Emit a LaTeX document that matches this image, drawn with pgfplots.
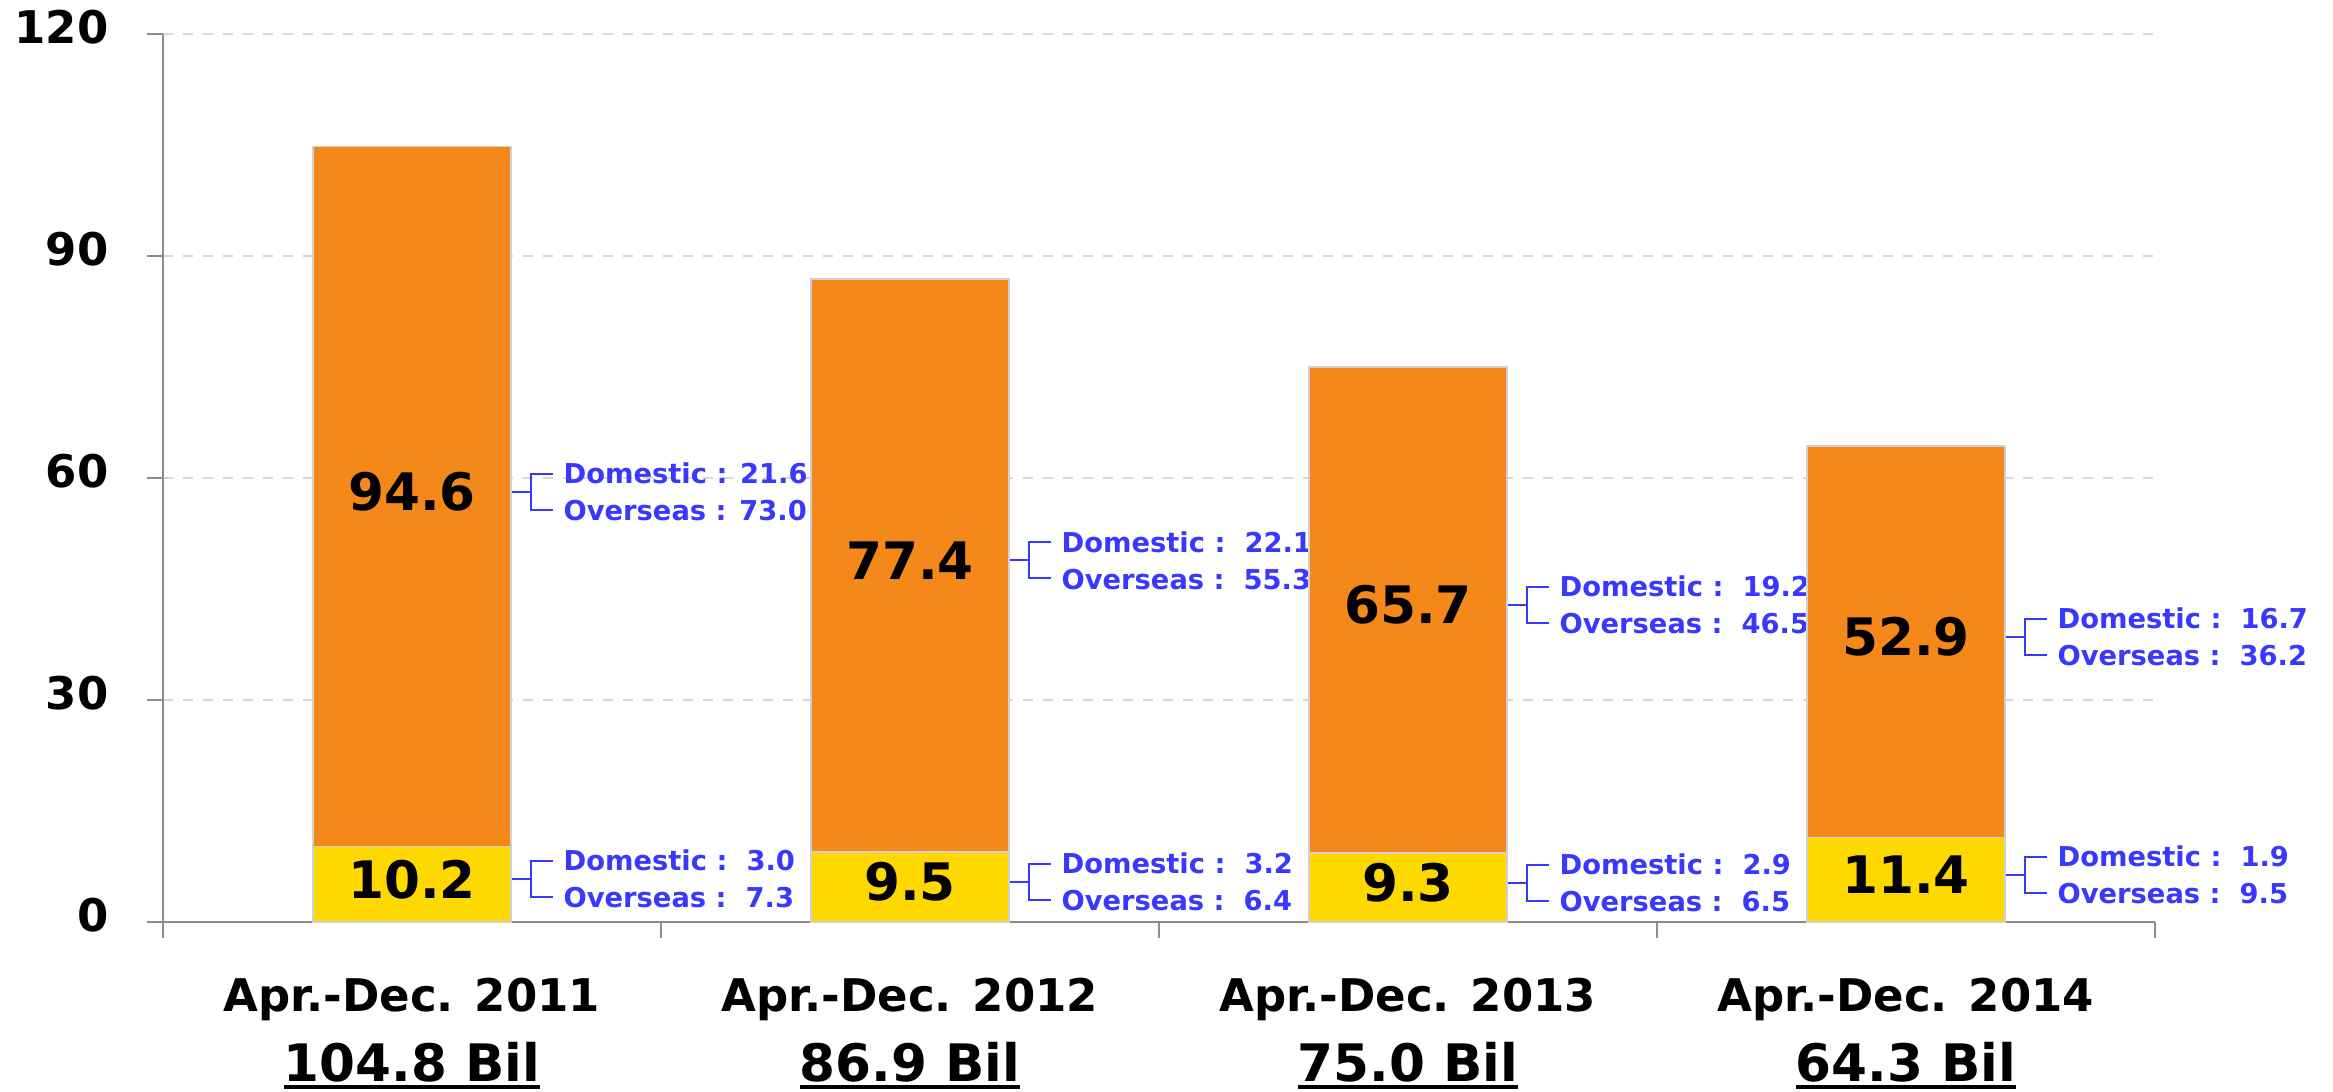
\documentclass[border=0pt]{standalone}
\usepackage{pgfplots}
\pgfplotsset{compat=1.18}
\usepackage{fontspec}
\setmainfont{DejaVu Sans}
\definecolor{barorange}{RGB}{245,136,26}
\definecolor{baryellow}{RGB}{255,216,0}
\definecolor{annblue}{RGB}{56,56,255}
\definecolor{axgray}{RGB}{140,140,140}
\definecolor{gridgray}{RGB}{215,215,215}
\newcommand\myul[1]{\setbox0\hbox{#1}\rlap{\rule[-2.3pt]{\wd0}{1.1pt}}\box0}
\newcommand\lowl[1]{{\fontsize{15.5}{20.9}\selectfont\myul{#1}}}
\newcommand\ann[4]{%
  \draw[annblue, line width=0.6pt] (axis cs:#1,#2) ++(29.7pt,1.5pt) -- ++(6pt,0pt) ++(6.6pt,5.4pt) -- ++(-6.6pt,0pt) -- ++(0pt,-10.8pt) -- ++(6.6pt,0pt);
  \node[annblue, anchor=west, align=left, inner sep=0pt, xshift=45.3pt, yshift=1.5pt,
        font=\fontsize{8.2}{11.1}\selectfont\bfseries] at (axis cs:#1,#2) {#3\\#4};
}
\begin{document}
\begin{tikzpicture}
\path[use as bounding box] (-48.9pt,-50.7pt) rectangle (651pt,276.6pt);
\begin{axis}[
  at={(0,0)}, anchor=south west,
  scale only axis, width=597.6pt, height=266.4pt,
  xmin=-0.5, xmax=3.5, ymin=0, ymax=120,
  axis x line*=bottom, axis y line*=left,
  axis line style={axgray, line width=0.6pt},
  ybar stacked, bar width=59.4pt,
  ytick={0,30,60,90,120},
  ymajorgrids, grid style={gridgray, dashed, line width=0.5pt},
  tick align=outside, major tick length=4.7pt,
  tick style={axgray, line width=0.6pt},
  /pgf/number format/assume math mode=true,
  yticklabel style={anchor=east, inner sep=0pt, xshift=-11.5pt, yshift=2pt,
     font=\fontsize{13.5}{14}\selectfont\bfseries},
  xtick={-0.5,0.5,1.5,2.5,3.5}, xticklabels={},
  extra x ticks={0,1,2,3},
  extra x tick labels={{Apr.-Dec. 2011\\\lowl{104.8 Bil}},{Apr.-Dec. 2012\\\lowl{86.9 Bil}},{Apr.-Dec. 2013\\\lowl{75.0 Bil}},{Apr.-Dec. 2014\\\lowl{64.3 Bil}}},
  extra x tick style={major tick length=0pt, grid=none,
     xticklabel style={anchor=north, align=center, inner sep=0pt, yshift=-16.6pt,
       font=\fontsize{13.5}{20.9}\selectfont\bfseries}},
  clip=false,
]
\addplot[fill=baryellow, draw=black!18, line width=0.5pt] coordinates {(0,10.2) (1,9.5) (2,9.3) (3,11.4)};
\addplot[fill=barorange, draw=black!18, line width=0.5pt] coordinates {(0,94.6) (1,77.4) (2,65.7) (3,52.9)};
\coordinate (y0) at (axis cs:0,5.1);
\coordinate (o0) at (axis cs:0,57.5);
\coordinate (y1) at (axis cs:1,4.75);
\coordinate (o1) at (axis cs:1,48.2);
\coordinate (y2) at (axis cs:2,4.65);
\coordinate (o2) at (axis cs:2,42.15);
\coordinate (y3) at (axis cs:3,5.7);
\coordinate (o3) at (axis cs:3,37.85);
\ann{0}{57.5}{Domestic : 21.6}{Overseas : 73.0}
\ann{0}{5.1}{Domestic :\ \ 3.0}{Overseas :\ \ 7.3}
\ann{1}{48.2}{Domestic :\ \ 22.1}{Overseas :\ \ 55.3}
\ann{1}{4.75}{Domestic :\ \ 3.2}{Overseas :\ \ 6.4}
\ann{2}{42.15}{Domestic :\ \ 19.2}{Overseas :\ \ 46.5}
\ann{2}{4.65}{Domestic :\ \ 2.9}{Overseas :\ \ 6.5}
\ann{3}{37.85}{Domestic :\ \ 16.7}{Overseas :\ \ 36.2}
\ann{3}{5.7}{Domestic :\ \ 1.9}{Overseas :\ \ 9.5}
\end{axis}
\begin{scope}[every node/.style={black, inner sep=0pt, yshift=1.5pt, font=\fontsize{15.5}{16}\selectfont\bfseries}]
\node at (y0) {10.2};
\node at (o0) {94.6};
\node at (y1) {9.5};
\node at (o1) {77.4};
\node at (y2) {9.3};
\node at (o2) {65.7};
\node at (y3) {11.4};
\node at (o3) {52.9};
\end{scope}
\end{tikzpicture}
\end{document}
